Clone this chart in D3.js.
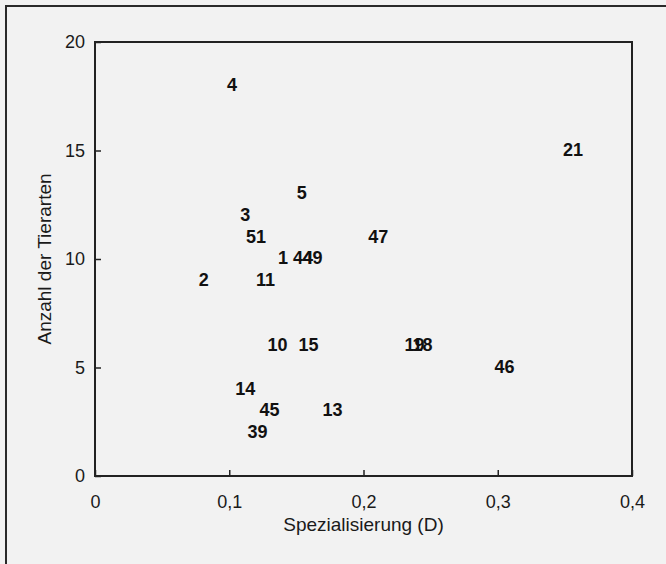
<!DOCTYPE html>
<html lang="de">
<head>
  <meta charset="UTF-8">
  <title>Spezialisierung und Anzahl der Tierarten</title>
  <style>
    html, body { margin: 0; padding: 0; background: #f2f2f2; }
    svg { display: block; font-family: "Liberation Sans", Arial, sans-serif; }
    .tick text { fill: #1a1a1a; }
  </style>
</head>
<body>
  <svg id="chart"></svg>
  <script src="https://cdn.jsdelivr.net/npm/d3@7"></script>
  <script>
    // point labels (site numbers), specialisation D and number of animal species
    var labels = ["4", "21", "5", "3", "51", "47", "1", "44", "49", "2", "11",
                  "10", "15", "19", "18", "46", "14", "45", "13", "39"];
    var specialisation = [0.102, 0.356, 0.154, 0.112, 0.120, 0.211, 0.140, 0.155, 0.162, 0.081, 0.127,
                          0.136, 0.159, 0.238, 0.244, 0.305, 0.112, 0.130, 0.177, 0.121];
    var species = [18, 15, 13, 12, 11, 11, 10, 10, 10, 9, 9,
                   6, 6, 6, 6, 5, 4, 3, 3, 2];
    var xTicks = [0, 0.1, 0.2, 0.3, 0.4];
    var yTicks = [0, 5, 10, 15, 20];

    var svgWidth = 666, svgHeight = 564;
    var plotLeft = 95, plotRight = 632, plotTop = 42, plotBottom = 476;

    var svg = d3.select('#chart')
      .attr('width', svgWidth)
      .attr('height', svgHeight);

    // outer frame of the scanned figure (runs off the right and bottom edge)
    svg.append('rect')
      .attr('x', 6).attr('y', 6)
      .attr('width', 680).attr('height', 600)
      .attr('fill', 'none')
      .attr('stroke', '#2a2a2a')
      .attr('stroke-width', 2);

    var xScale = d3.scaleLinear().domain([0, 0.4]).range([plotLeft, plotRight]);
    var yScale = d3.scaleLinear().domain([0, 20]).range([plotBottom, plotTop]);

    var comma = function (d) { return d === 0 ? '0' : d3.format('.1f')(d).replace('.', ','); };

    var xAxis = d3.axisBottom(xScale)
      .tickValues(xTicks)
      .tickFormat(comma)
      .tickSizeInner(-6)
      .tickSizeOuter(0)
      .tickPadding(19);

    var yAxis = d3.axisLeft(yScale)
      .tickValues(yTicks)
      .tickSizeInner(-6)
      .tickSizeOuter(0)
      .tickPadding(10);

    var gx = svg.append('g')
      .attr('transform', `translate(0, ${plotBottom})`)
      .call(xAxis);
    var gy = svg.append('g')
      .attr('transform', `translate(${plotLeft}, 0)`)
      .call(yAxis);

    [gx, gy].forEach(function (g) {
      g.select('.domain').remove();
      g.selectAll('.tick line').attr('stroke', '#222').attr('stroke-width', 1.5);
      g.selectAll('.tick text')
        .attr('font-size', 18)
        .attr('font-family', '"Liberation Sans", Arial, sans-serif');
    });

    // plot frame
    svg.append('rect')
      .attr('x', plotLeft).attr('y', plotTop)
      .attr('width', plotRight - plotLeft).attr('height', plotBottom - plotTop)
      .attr('fill', 'none')
      .attr('stroke', '#222')
      .attr('stroke-width', 2);

    // points drawn as their number
    svg.append('g')
      .selectAll('text')
      .data(labels)
      .enter()
      .append('text')
      .attr('x', (d, i) => xScale(specialisation[i]))
      .attr('y', (d, i) => yScale(species[i]))
      .attr('dy', '0.3em')
      .attr('text-anchor', 'middle')
      .attr('font-size', 18)
      .attr('font-weight', 'bold')
      .attr('fill', '#111')
      .text(d => d);

    // axis titles
    svg.append('text')
      .attr('x', (plotLeft + plotRight) / 2)
      .attr('y', 531)
      .attr('text-anchor', 'middle')
      .attr('font-size', 19)
      .attr('fill', '#1a1a1a')
      .text('Spezialisierung (D)');

    svg.append('text')
      .attr('transform', `translate(51, ${(plotTop + plotBottom) / 2}) rotate(-90)`)
      .attr('text-anchor', 'middle')
      .attr('font-size', 19)
      .attr('fill', '#1a1a1a')
      .text('Anzahl der Tierarten');
  </script>
</body>
</html>
